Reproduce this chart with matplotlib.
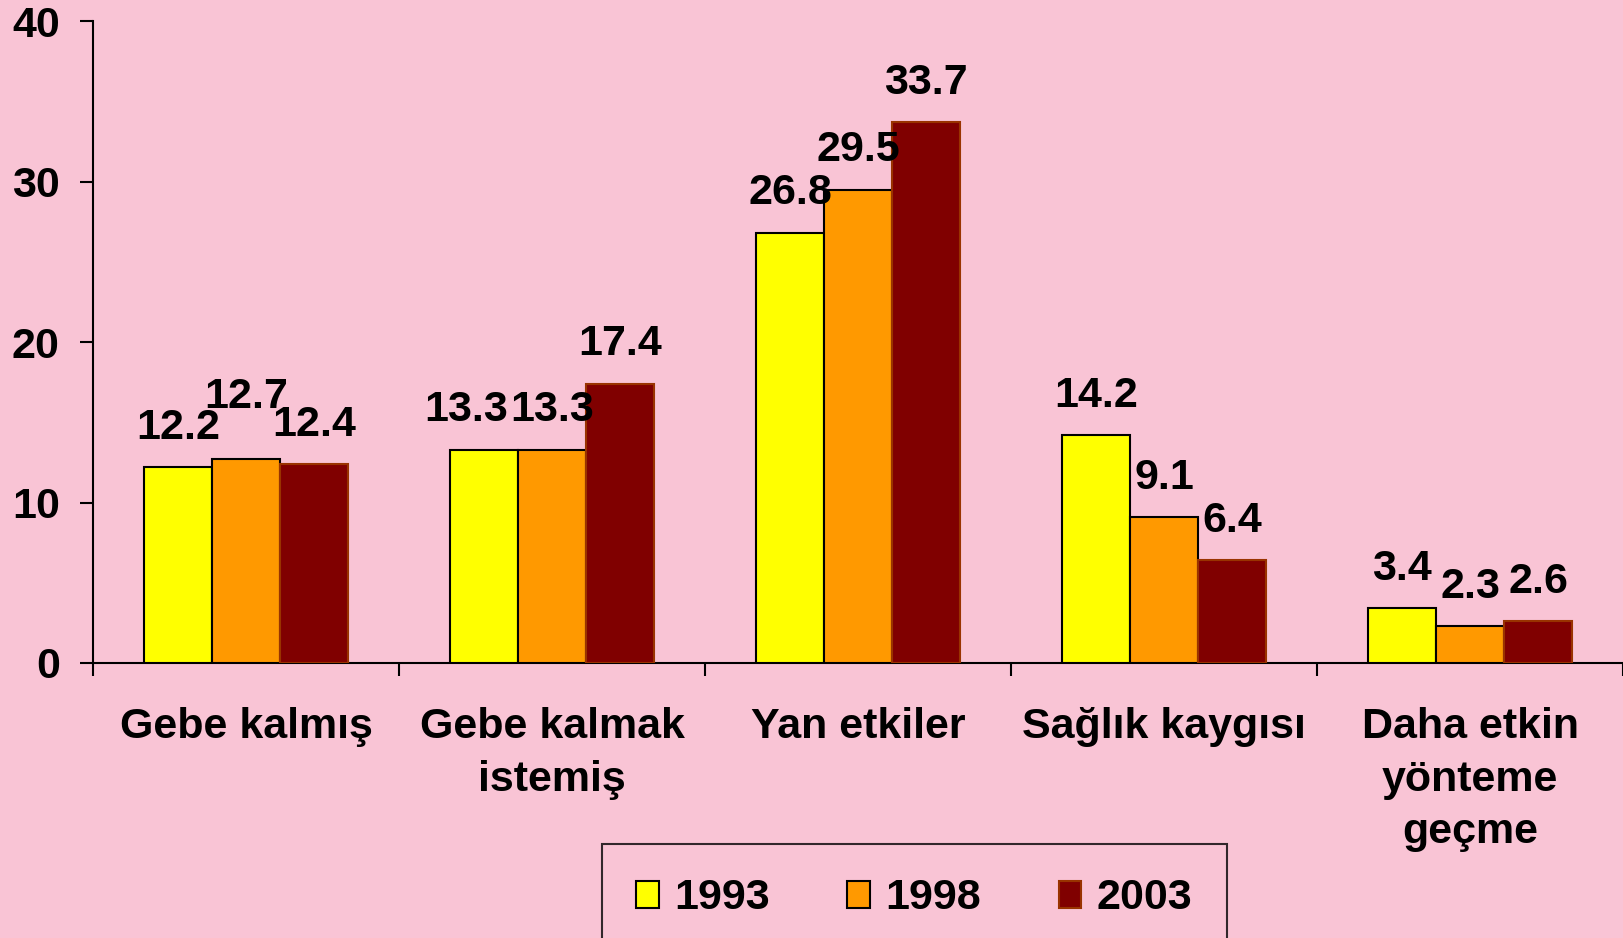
import matplotlib
matplotlib.use("Agg")
import matplotlib.pyplot as plt
import numpy as np

categories = ["Gebe kalmış", "Gebe kalmak\nistemiş", "Yan etkiler", "Sağlık kaygısı", "Daha etkin\nyönteme\ngeçme"]
series_names = ["1993", "1998", "2003"]
v1993 = [12.2, 13.3, 26.8, 14.2, 3.4]
v1998 = [12.7, 13.3, 29.5, 9.1, 2.3]
v2003 = [12.4, 17.4, 33.7, 6.4, 2.6]
yticks = [0, 10, 20, 30, 40]

colors = ["#FFFF00", "#FF9900", "#800000"]
edges = ["#000000", "#000000", "#993300"]
bg = "#F9C4D5"
FS = 31
# manual label nudges (series index, category index) -> (dx, dy) in points
nudges = {(0, 1): (-13, 0), (1, 0): (0, 16)}

plt.rcParams['font.family'] = ['Liberation Sans', 'DejaVu Sans']
fig = plt.figure(figsize=(16.23, 9.38), dpi=100, facecolor=bg)
ax = fig.add_axes([93/1623, 1-663/938, 1-93/1623, (663-21)/938])
ax.set_facecolor("none")

x = np.arange(len(categories))
w = 1/4.5
handles = []
for j, vals in enumerate([v1993, v1998, v2003]):
    bars = ax.bar(x + (j-1)*w, vals, width=w, color=colors[j], edgecolor=edges[j],
                  linewidth=1.5, label=series_names[j], zorder=3)
    handles.append(bars)
    for i, (xi, v) in enumerate(zip(x + (j-1)*w, vals)):
        dx, dy = nudges.get((j, i), (0, 0))
        ax.annotate(f"{v:.1f}", (xi, v), xytext=(dx, 14 + dy), textcoords="offset points",
                    ha="center", va="bottom", fontsize=FS, fontweight="bold", zorder=4)

ax.set_xlim(-0.5, len(categories)-0.5)
ax.set_ylim(0, 40)
ax.set_yticks(yticks)
ax.set_yticklabels([str(t) for t in yticks], fontsize=FS, fontweight="bold")
ax.tick_params(axis='y', direction='out', length=9.5, width=1.5, pad=14.5)
ax.set_xticks(x)
ax.set_xticklabels(categories, fontsize=FS, fontweight="bold", linespacing=1.4)
ax.tick_params(axis='x', which='major', length=0, pad=32)
ax.set_xticks(np.arange(len(categories)+1) - 0.5, minor=True)
ax.tick_params(axis='x', which='minor', direction='out', length=9, width=1.5)
for s in ["top", "right"]:
    ax.spines[s].set_visible(False)
for s in ["left", "bottom"]:
    ax.spines[s].set_linewidth(1.5)

leg = fig.legend(handles=handles, labels=series_names, loc="upper left",
                 bbox_to_anchor=(602/1623, 1-844/938), ncol=3, frameon=True,
                 prop={'family': ['Liberation Sans', 'DejaVu Sans'], 'weight': 'bold', 'size': FS},
                 handlelength=0.52, handleheight=0.6, handletextpad=0.36, columnspacing=1.8,
                 borderpad=0.8, borderaxespad=0, fancybox=False)
leg.get_frame().set_facecolor("none")
leg.get_frame().set_edgecolor("black")
leg.get_frame().set_linewidth(1.5)

fig.savefig("out.png", dpi=100, facecolor=bg)
